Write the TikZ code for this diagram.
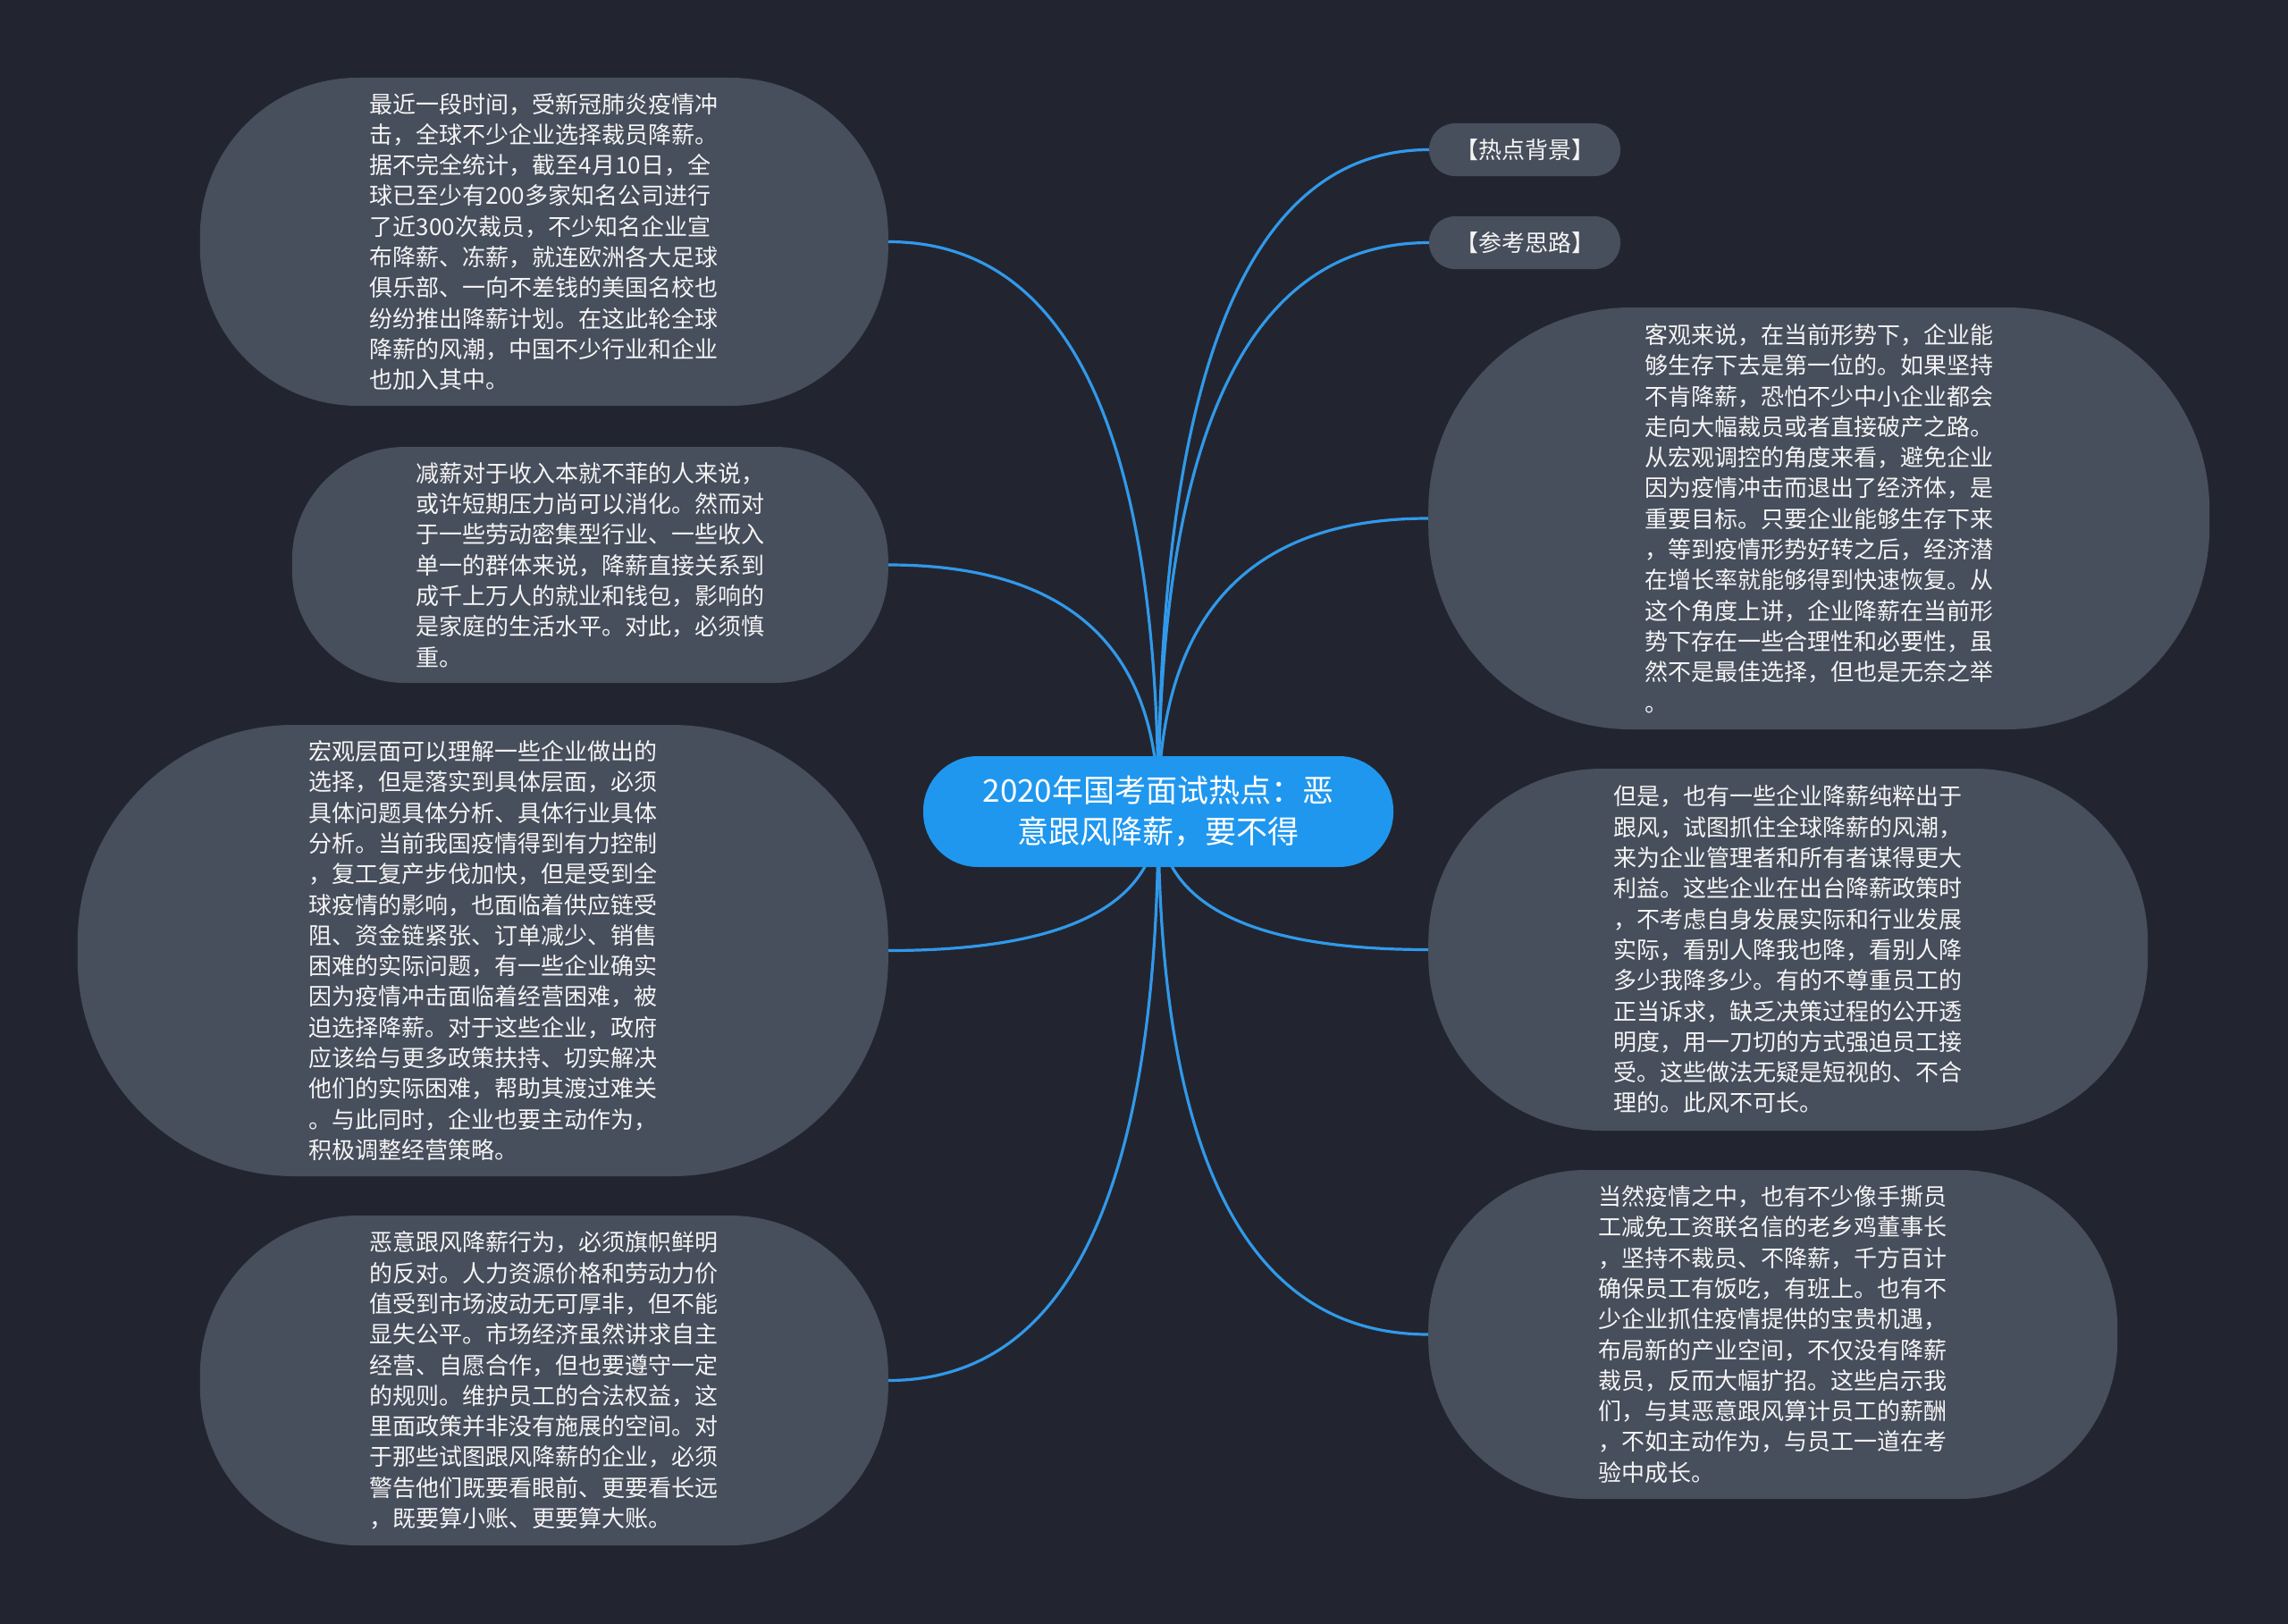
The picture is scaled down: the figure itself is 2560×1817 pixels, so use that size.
\documentclass[tikz,border=0pt]{standalone}
\usepackage{fontspec}
\setmainfont{Noto Sans CJK SC}
\usetikzlibrary{calc}
\definecolor{bgc}{HTML}{22252F}
\definecolor{nodec}{HTML}{474E5C}
\definecolor{mainc}{HTML}{1F97EF}
\definecolor{linec}{HTML}{3199EA}
\definecolor{txtc}{HTML}{F4F4F4}
\pgfdeclarelayer{bg}
\pgfdeclarelayer{edges}
\pgfsetlayers{bg,edges,main}
\newcommand\mmconn[2]{\draw[link] (#1) .. controls ($(#1)!0.6667!(#1|-#2)$) and ($(#2)!0.6667!(#1|-#2)$) .. (#2);}
\begin{document}
\begin{tikzpicture}[x=1pt,y=-1pt,
  bubble/.style 2 args={fill=nodec, text=txtc, inner sep=0pt, align=left,
    minimum width=#1, minimum height=#2, rounded corners=0.48*#2,
    font=\fontsize{26}{34.3}\selectfont},
  tagbox/.style={fill=nodec, text=txtc, inner sep=0pt, minimum width=214pt,
    minimum height=59pt, rounded corners=29pt, font=\fontsize{26}{30}\selectfont},
  rootbox/.style={fill=mainc, text=white, inner sep=0pt, align=center,
    minimum width=526pt, minimum height=124pt, rounded corners=61pt,
    font=\fontsize{35}{46}\selectfont},
  link/.style={draw=linec, line width=3.2pt}]
\path[use as bounding box] (0,0) rectangle (2560,1817);
\begin{pgfonlayer}{bg}
\fill[bgc] (0,0) rectangle (2560,1817);
\end{pgfonlayer}

\node[rootbox] (root) at (1296,908) {2020年国考面试热点：恶\\意跟风降薪，要不得};

\node[tagbox] (t1) at (1706,167.5) {【热点背景】};
\node[tagbox] (t2) at (1706,271.5) {【参考思路】};

\node[bubble={874pt}{472pt}, anchor=west] (e) at (1598,580) {客观来说，在当前形势下，企业能\\够生存下去是第一位的。如果坚持\\不肯降薪，恐怕不少中小企业都会\\走向大幅裁员或者直接破产之路。\\从宏观调控的角度来看，避免企业\\因为疫情冲击而退出了经济体，是\\重要目标。只要企业能够生存下来\\，等到疫情形势好转之后，经济潜\\在增长率就能够得到快速恢复。从\\这个角度上讲，企业降薪在当前形\\势下存在一些合理性和必要性，虽\\然不是最佳选择，但也是无奈之举\\。};

\node[bubble={805pt}{405pt}, anchor=west] (f) at (1598,1062.5) {但是，也有一些企业降薪纯粹出于\\跟风，试图抓住全球降薪的风潮，\\来为企业管理者和所有者谋得更大\\利益。这些企业在出台降薪政策时\\，不考虑自身发展实际和行业发展\\实际，看别人降我也降，看别人降\\多少我降多少。有的不尊重员工的\\正当诉求，缺乏决策过程的公开透\\明度，用一刀切的方式强迫员工接\\受。这些做法无疑是短视的、不合\\理的。此风不可长。};

\node[bubble={771pt}{368pt}, anchor=west] (g) at (1598,1493) {当然疫情之中，也有不少像手撕员\\工减免工资联名信的老乡鸡董事长\\，坚持不裁员、不降薪，千方百计\\确保员工有饭吃，有班上。也有不\\少企业抓住疫情提供的宝贵机遇，\\布局新的产业空间，不仅没有降薪\\裁员，反而大幅扩招。这些启示我\\们，与其恶意跟风算计员工的薪酬\\，不如主动作为，与员工一道在考\\验中成长。};

\node[bubble={770pt}{367pt}, anchor=east] (a) at (994,270.5) {最近一段时间，受新冠肺炎疫情冲\\击，全球不少企业选择裁员降薪。\\据不完全统计，截至4月10日，全\\球已至少有200多家知名公司进行\\了近300次裁员，不少知名企业宣\\布降薪、冻薪，就连欧洲各大足球\\俱乐部、一向不差钱的美国名校也\\纷纷推出降薪计划。在这此轮全球\\降薪的风潮，中国不少行业和企业\\也加入其中。};

\node[bubble={667pt}{264pt}, anchor=east] (b) at (994,632) {减薪对于收入本就不菲的人来说，\\或许短期压力尚可以消化。然而对\\于一些劳动密集型行业、一些收入\\单一的群体来说，降薪直接关系到\\成千上万人的就业和钱包，影响的\\是家庭的生活水平。对此，必须慎\\重。};

\node[bubble={907pt}{505pt}, anchor=east] (c) at (994,1063.5) {宏观层面可以理解一些企业做出的\\选择，但是落实到具体层面，必须\\具体问题具体分析、具体行业具体\\分析。当前我国疫情得到有力控制\\，复工复产步伐加快，但是受到全\\球疫情的影响，也面临着供应链受\\阻、资金链紧张、订单减少、销售\\困难的实际问题，有一些企业确实\\因为疫情冲击面临着经营困难，被\\迫选择降薪。对于这些企业，政府\\应该给与更多政策扶持、切实解决\\他们的实际困难，帮助其渡过难关\\。与此同时，企业也要主动作为，\\积极调整经营策略。};

\node[bubble={770pt}{369pt}, anchor=east] (d) at (994,1544.5) {恶意跟风降薪行为，必须旗帜鲜明\\的反对。人力资源价格和劳动力价\\值受到市场波动无可厚非，但不能\\显失公平。市场经济虽然讲求自主\\经营、自愿合作，但也要遵守一定\\的规则。维护员工的合法权益，这\\里面政策并非没有施展的空间。对\\于那些试图跟风降薪的企业，必须\\警告他们既要看眼前、更要看长远\\，既要算小账、更要算大账。};

\begin{pgfonlayer}{edges}
\mmconn{root.center}{t1.west}
\mmconn{root.center}{t2.west}
\mmconn{root.center}{e.west}
\mmconn{root.center}{f.west}
\mmconn{root.center}{g.west}
\mmconn{root.center}{a.east}
\mmconn{root.center}{b.east}
\mmconn{root.center}{c.east}
\mmconn{root.center}{d.east}
\end{pgfonlayer}
\end{tikzpicture}
\end{document}
